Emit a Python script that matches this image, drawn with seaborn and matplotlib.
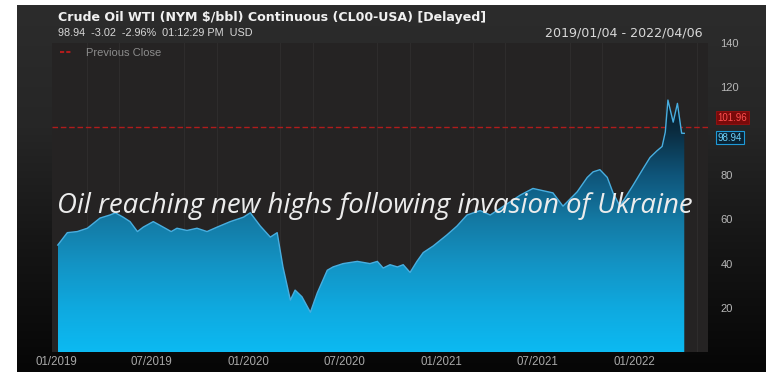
import numpy as np
import pandas as pd
import matplotlib
matplotlib.use("Agg")
import matplotlib.pyplot as plt
import matplotlib.dates as mdates
from matplotlib.colors import LinearSegmentedColormap
import seaborn as sns

# ---------------- data ----------------
dates = [
    "2019-01-04", "2019-01-22", "2019-02-10", "2019-03-01", "2019-03-25", "2019-04-13",
    "2019-04-23", "2019-05-08", "2019-05-21", "2019-06-04", "2019-06-15", "2019-07-04",
    "2019-07-23", "2019-08-07", "2019-08-18", "2019-09-06", "2019-09-25", "2019-10-14",
    "2019-11-02", "2019-11-27", "2019-12-22", "2020-01-04", "2020-01-23", "2020-02-11",
    "2020-02-24", "2020-03-06", "2020-03-20", "2020-03-29", "2020-04-11", "2020-04-27",
    "2020-05-10", "2020-05-29", "2020-06-09", "2020-06-28", "2020-07-25", "2020-08-18",
    "2020-09-01", "2020-09-12", "2020-09-25", "2020-10-09", "2020-10-20", "2020-11-02",
    "2020-11-15", "2020-11-27", "2020-12-16", "2021-01-11", "2021-01-30", "2021-02-18",
    "2021-03-15", "2021-04-03", "2021-04-22", "2021-05-30", "2021-06-23", "2021-07-12",
    "2021-07-31", "2021-08-19", "2021-09-15", "2021-10-04", "2021-10-15", "2021-10-28",
    "2021-11-11", "2021-11-22", "2021-12-05", "2021-12-30", "2022-01-18", "2022-01-31",
    "2022-02-13", "2022-02-23", "2022-03-01", "2022-03-06", "2022-03-16", "2022-03-24",
    "2022-04-01", "2022-04-06",
]
prices = [
    48.4, 54.0, 54.5, 56.0, 60.6, 62.0,
    63.0, 61.0, 59.0, 54.5, 56.5, 59.0,
    56.5, 54.5, 56.0, 55.0, 56.0, 54.5,
    56.5, 59.0, 61.0, 63.0, 57.0, 52.0,
    54.0, 38.5, 23.5, 28.0, 25.0, 18.0,
    26.7, 37.0, 38.5, 40.0, 41.0, 40.0,
    41.0, 38.0, 39.5, 38.5, 39.5, 36.0,
    41.0, 45.0, 48.0, 53.0, 57.0, 62.0,
    64.0, 62.0, 65.0, 71.0, 74.0, 73.0,
    72.0, 66.0, 72.5, 79.0, 81.5, 82.5,
    79.0, 72.0, 66.0, 75.5, 83.0, 88.0,
    91.0, 93.0, 99.5, 114.0, 104.0, 112.5,
    99.0, 98.94,
]
prev_close = 101.96
last_price = 98.94
y_ticks = [20, 40, 60, 80, 120, 140]
x_tick_dates = ["2019-01-01", "2019-07-01", "2020-01-01", "2020-07-01",
                "2021-01-01", "2021-07-01", "2022-01-01"]
x_tick_labels = ["01/2019", "07/2019", "01/2020", "07/2020", "01/2021", "07/2021", "01/2022"]

title = "Crude Oil WTI (NYM $/bbl) Continuous (CL00-USA) [Delayed]"
quote_line = "98.94  -3.02  -2.96%  01:12:29 PM  USD"
range_text = "2019/01/04 - 2022/04/06"
legend_text = "Previous Close"
annotation = "Oil reaching new highs following invasion of Ukraine"

df = pd.DataFrame({"date": pd.to_datetime(dates), "price": prices})

# ---------------- figure ----------------
W, H = 766, 372
fig = plt.figure(figsize=(W / 100, H / 100), dpi=100)
fig.patch.set_facecolor("white")
fx = lambda px: px / W
fy = lambda py: 1 - py / H

# dark background panel with vertical gradient
bg = fig.add_axes([fx(17), 0, 1 - fx(17), 1 - 5 / H], zorder=-10)
bg_cmap = LinearSegmentedColormap.from_list("bg", ["#060606", "#151515", "#262626", "#2c2c2c"])
bg.imshow(np.linspace(0, 1, 256).reshape(-1, 1), cmap=bg_cmap, aspect="auto",
          origin="lower", extent=[0, 1, 0, 1])
bg.set_axis_off()

ax = fig.add_axes([fx(52), fy(352), fx(708) - fx(52), fy(42.6) - fy(352)])
ax.set_facecolor("#252323")
for s in ax.spines.values():
    s.set_visible(False)

x0 = pd.Timestamp("2018-12-24")
x1 = pd.Timestamp("2022-05-21")

# previous close dashed line
ax.axhline(prev_close, color="#b01c1c", ls=(0, (4, 2)), lw=1.0, zorder=1.5)

# gradient area fill
fill = ax.fill_between(df["date"], df["price"], 0, color="none", lw=0, zorder=2)
xnum = mdates.date2num(df["date"])
grad_cmap = LinearSegmentedColormap.from_list(
    "fill",
    [(0.0, "#0cbaf2"), (20 / 118, "#0fa9df"), (40 / 118, "#1393c4"), (60 / 118, "#1479a3"),
     (80 / 118, "#0f557a"), (100 / 118, "#0a2c40"), (1.0, "#08141c")])
im = ax.imshow(np.linspace(0, 1, 256).reshape(-1, 1), cmap=grad_cmap, aspect="auto",
               origin="lower", extent=[xnum.min(), xnum.max(), 0, 118], zorder=2)
im.set_clip_path(fill.get_paths()[0], transform=ax.transData)

sns.lineplot(data=df, x="date", y="price", color="#48aee0", lw=1.0, ax=ax, zorder=3)

ax.set_xlim(x0, x1)
ax.set_ylim(0, 140)
ax.set_xlabel("")
ax.set_ylabel("")

# grid (bimonthly vertical lines)
ax.xaxis.set_minor_locator(mdates.MonthLocator(bymonth=[1, 3, 5, 7, 9, 11]))
ax.grid(True, which="minor", axis="x", color="#2f2d2d", lw=0.7)
ax.grid(False, which="major")
ax.set_axisbelow(True)

ax.set_xticks(pd.to_datetime(x_tick_dates))
ax.set_xticklabels(x_tick_labels)
ax.tick_params(axis="x", which="both", length=0, pad=3, colors="#a8a8a8", labelsize=8.3)
ax.yaxis.tick_right()
ax.set_yticks(y_ticks)
ax.set_yticklabels([str(v) for v in y_ticks])
ax.tick_params(axis="y", length=0, pad=9, colors="#b8b8b8", labelsize=8)
for lbl in ax.get_xticklabels() + ax.get_yticklabels():
    lbl.set_family("Liberation Sans")

# price tags on the right axis
ax.annotate(f"{prev_close:.2f}", xy=(1, prev_close), xycoords=("axes fraction", "data"),
            xytext=(7, 6.5), textcoords="offset points", va="center", ha="left",
            fontsize=7, color="#ff5050", family="Liberation Sans",
            bbox=dict(boxstyle="square,pad=0.15", fc="#7a0a0a", ec="#9a1010", lw=0.6),
            annotation_clip=False)
ax.annotate(f"{last_price:.2f}", xy=(1, last_price), xycoords=("axes fraction", "data"),
            xytext=(7, -3), textcoords="offset points", va="center", ha="left",
            fontsize=7, color="#6cd0f8", family="Liberation Sans",
            bbox=dict(boxstyle="square,pad=0.15", fc="#0a2232", ec="#1e9ad8", lw=0.8),
            annotation_clip=False)

# header texts
fig.text(fx(58), fy(17), title, fontsize=9.05, fontweight="bold", color="#f0f0f0",
         family="DejaVu Sans", va="center", ha="left")
fig.text(fx(58), fy(33), quote_line, fontsize=7.8, color="#d8d8d8",
         family="Liberation Sans", va="center", ha="left")
fig.text(fx(703), fy(33), range_text, fontsize=9.1, color="#d8d8d8",
         family="DejaVu Sans", va="center", ha="right")

# legend
fig.add_artist(plt.Line2D([fx(60), fx(72)], [fy(52), fy(52)], color="#b01c1c",
                          ls=(0, (2, 1)), lw=1.5))
fig.text(fx(86), fy(52.5), legend_text, fontsize=8, color="#8c8c8c",
         family="Liberation Sans", va="center", ha="left")

# annotation
fig.text(fx(57), fy(206), annotation, fontsize=19.9, style="italic", color="#ececec",
         family="Open Sans", va="center", ha="left")

fig.savefig("out.png", dpi=100, facecolor=fig.get_facecolor())
